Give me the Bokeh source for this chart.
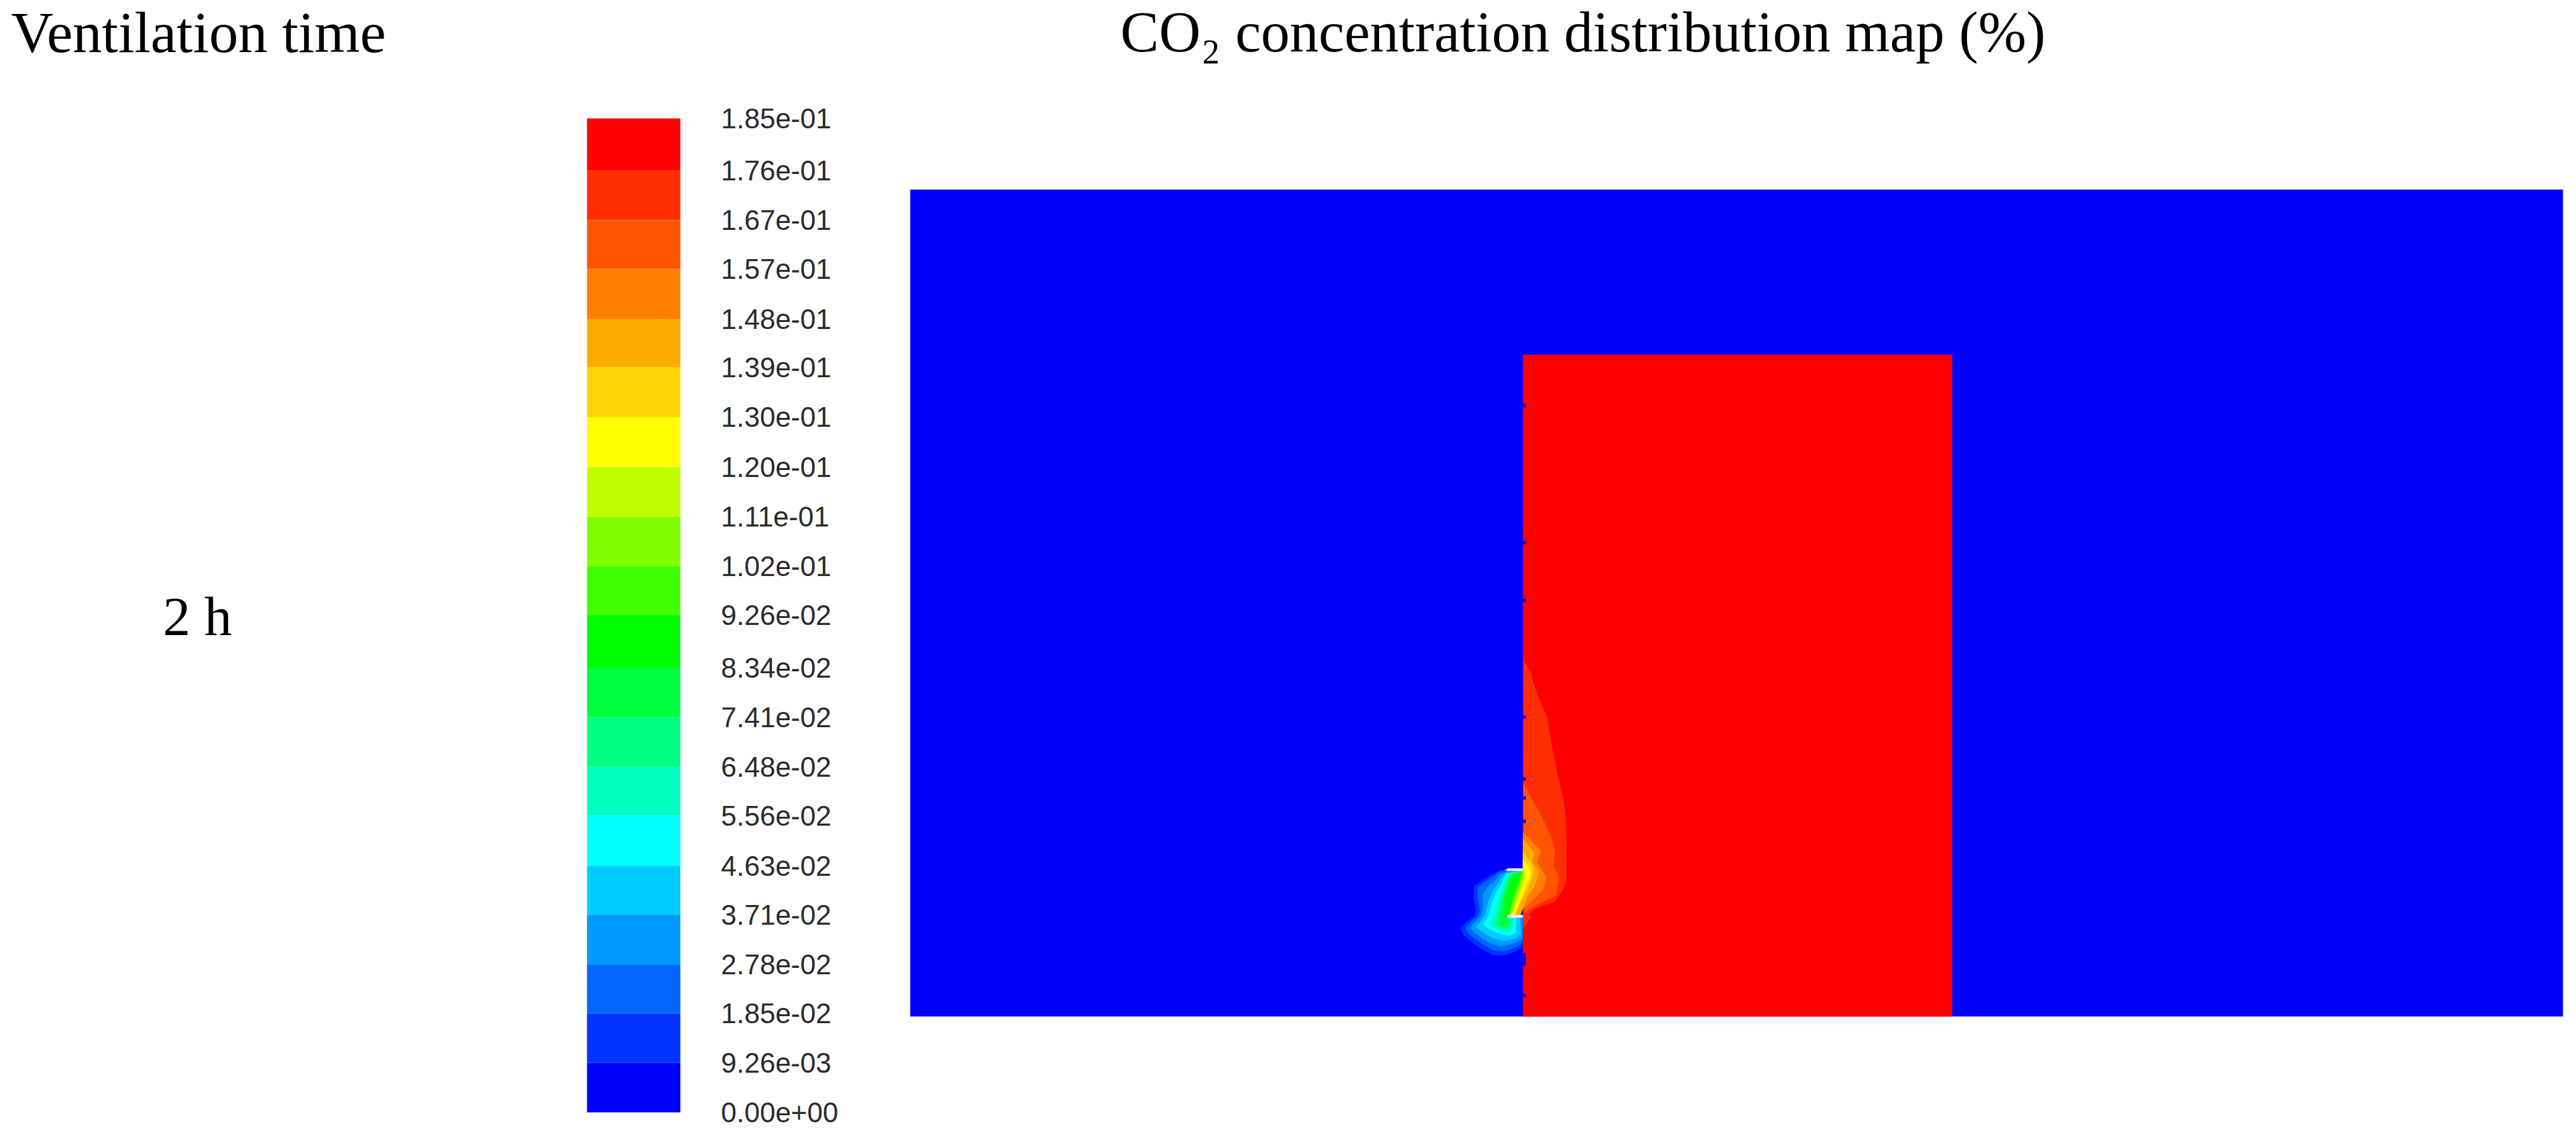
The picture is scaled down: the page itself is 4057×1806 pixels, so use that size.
"""CO2 concentration contour map, drawn with Bokeh."""

from bokeh.core.properties import value
from bokeh.embed import file_html
from bokeh.models import Range1d
from bokeh.plotting import figure
from bokeh.resources import INLINE

# colour bar: one colour per band, top band first
band_colors = [
    "#ff0000", "#ff2e00", "#ff5500", "#ff7f00", "#ffaa00", "#ffd400", "#ffff00",
    "#bfff00", "#80ff00", "#40ff00", "#00ff00", "#00ff40", "#00ff80", "#00ffbf",
    "#00ffff", "#00ccff", "#0099ff", "#0066ff", "#0033ff", "#0000ff",
]
# band edges, top first
band_edges = [
    0.1850, 0.1753, 0.1661, 0.1570, 0.1477, 0.1387, 0.1294, 0.1201, 0.1109, 0.1017,
    0.0926, 0.0828, 0.0735, 0.0643, 0.0552, 0.0459, 0.0368, 0.0275, 0.0184, 0.0092, 0.0,
]
level_labels = [
    "1.85e-01", "1.76e-01", "1.67e-01", "1.57e-01", "1.48e-01", "1.39e-01", "1.30e-01",
    "1.20e-01", "1.11e-01", "1.02e-01", "9.26e-02", "8.34e-02", "7.41e-02", "6.48e-02",
    "5.56e-02", "4.63e-02", "3.71e-02", "2.78e-02", "1.85e-02", "9.26e-03", "0.00e+00",
]

# map geometry, in map units
domain_x = (-2601, 5208)
domain_y = (-3006, 900)
core_x = (294, 2322)
core_y = (-2226, 900)
plate_x = (219, 294)
plate_y = [(200, 213), (420, 433)]
notch_top = [-1994, -1346, -1073, -523, -230, -140, -30, 600, 793]
notch_bottom = [-1978, -1330, -1057, -507, -214, -124, -14, 660, 807]

# contours on the room side of the wall, outermost first
room_contours = [
    [(297, -785), (330, -725), (350, -655), (375, -590), (410, -510), (420, -440), (440, -330),
     (460, -230), (485, -130), (495, -50), (500, 60), (500, 250), (490, 290), (465, 330), (440, 360),
     (390, 375), (345, 395), (320, 420), (330, 430), (320, 450), (300, 480), (294, 480)],
    [(295, -200), (330, -140), (370, -70), (405, 0), (440, 90), (445, 130), (440, 190), (465, 240),
     (450, 330), (369, 366), (321, 399), (300, 411)],
    [(294, 30), (381, 120), (360, 171), (405, 240), (390, 300), (351, 339), (300, 390)],
]
# these also reach through the opening in the wall
opening_contours = [
    [(294, 60), (350, 130), (340, 170), (370, 215), (350, 285), (315, 335), (295, 390), (280, 425)],
    [(294, 120), (330, 170), (345, 205), (335, 250), (310, 310), (280, 370), (262, 415), (255, 425)],
    [(294, 160), (320, 190), (332, 225), (315, 270), (285, 340), (265, 395), (250, 425)],
    [(294, 190), (305, 225), (295, 280), (270, 345), (252, 395), (240, 425)],
    [(294, 207), (295, 240), (278, 295), (258, 350), (245, 395), (235, 425)],
    [(294, 215), (285, 255), (265, 310), (245, 365), (235, 405), (230, 425)],
]
opening_close = [(210, 425), (210, 207), (294, 207)]

# contours on the open side, from the outer blue in to the green core
plume_contours = [
    [(218, 212), (190, 208), (150, 228), (100, 258), (62, 285), (62, 340), (72, 400), (62, 430), (25, 455),
     (0, 482), (10, 512), (50, 548), (100, 582), (150, 610), (205, 612), (265, 592), (293, 570), (293, 432)],
    [(218, 212), (185, 215), (150, 240), (110, 268), (80, 290), (80, 340), (90, 400), (80, 425), (40, 460),
     (22, 482), (35, 508), (70, 535), (115, 565), (160, 590), (210, 592), (265, 572), (293, 550), (293, 432)],
    [(218, 215), (190, 225), (165, 255), (130, 285), (105, 320), (105, 390), (95, 425), (60, 462), (45, 482),
     (60, 500), (100, 530), (140, 555), (190, 570), (260, 552), (293, 530), (293, 432)],
    [(218, 220), (200, 235), (180, 265), (150, 310), (130, 360), (115, 420), (85, 462), (70, 478), (100, 500),
     (150, 530), (210, 545), (262, 530), (285, 510), (280, 432)],
    [(218, 225), (205, 245), (190, 280), (165, 320), (145, 370), (130, 430), (105, 465), (130, 485), (170, 505),
     (225, 520), (255, 510), (262, 500), (262, 432)],
    [(218, 232), (205, 265), (185, 320), (165, 380), (155, 430), (135, 462), (170, 490), (225, 505), (245, 490),
     (250, 432)],
    [(225, 230), (215, 270), (195, 325), (180, 385), (170, 440), (160, 462), (185, 482), (220, 490), (235, 470),
     (238, 432)],
    [(240, 228), (225, 270), (207, 325), (195, 385), (185, 440), (185, 465), (205, 480), (222, 470), (225, 432)],
    [(255, 225), (235, 270), (218, 325), (210, 385), (205, 432), (222, 432)],
]
plume_close = [(225, 432), (235, 380), (250, 330), (272, 270), (280, 225), (293, 212)]


def split_xy(points):
    return [pt[0] for pt in points], [pt[1] for pt in points]


# frame covers the whole page, so the primary ranges are page positions
p = figure(
    width=4041,
    height=1790,
    x_range=Range1d(0, 4041),
    y_range=Range1d(1790, 0),
    x_axis_location=None,
    y_axis_location=None,
    toolbar_location=None,
    output_backend="svg",
    min_border=0,
    outline_line_color=None,
    background_fill_color="white",
    border_fill_color="white",
)
p.grid.visible = False
p.extra_y_ranges["co2"] = Range1d(-0.00461, 0.20700)
p.extra_x_ranges["map"] = Range1d(-6900, 5223)
p.extra_y_ranges["map"] = Range1d(1470, -3900)

# colour bar
p.quad(
    left=924, right=1071,
    top=band_edges[:-1], bottom=band_edges[1:],
    fill_color=band_colors, line_color=None,
    y_range_name="co2",
)
p.text(
    x=1135, y=band_edges, text=level_labels,
    text_font=value("Liberation Sans"), text_font_size="44px", text_color="#2b2b2b",
    text_baseline="middle", text_align="left",
    y_range_name="co2",
)

# domain, then the high concentration room
p.quad(
    left=domain_x[0], right=domain_x[1], top=domain_y[0], bottom=domain_y[1],
    fill_color="#0000ff", line_color=None, x_range_name="map", y_range_name="map",
)
p.quad(
    left=core_x[0], right=core_x[1], top=core_y[0], bottom=core_y[1],
    fill_color="#ff0000", line_color=None, x_range_name="map", y_range_name="map",
)

# contour layers
layers = []
for level, pts in enumerate(room_contours):
    layers.append((pts, band_colors[level + 1]))
for level, pts in enumerate(opening_contours):
    layers.append((pts + opening_close, band_colors[level + 4]))
for level, pts in enumerate(plume_contours):
    layers.append((pts + plume_close, band_colors[18 - level]))

for pts, color in layers:
    xs, ys = split_xy(pts)
    p.patch(xs, ys, fill_color=color, line_color=None, x_range_name="map", y_range_name="map")

# wall details
p.quad(
    left=294, right=308, top=notch_top, bottom=notch_bottom,
    fill_color="#0000ff", line_color=None, x_range_name="map", y_range_name="map",
)
p.quad(
    left=plate_x[0], right=plate_x[1],
    top=[py[0] for py in plate_y], bottom=[py[1] for py in plate_y],
    fill_color="#f3efff", line_color=None, x_range_name="map", y_range_name="map",
)

# headings
p.text(
    x=[17], y=[50], text=["Ventilation time"],
    text_font=value("Liberation Serif"), text_font_size="92px", text_color="black",
    text_baseline="middle", text_align="left",
)
p.text(
    x=[1764], y=[50], text=["CO\u2082 concentration distribution map (%)"],
    text_font=value("Liberation Serif"), text_font_size="91px", text_color="black",
    text_baseline="middle", text_align="left",
)
p.text(
    x=[256], y=[970], text=["2 h"],
    text_font=value("Liberation Serif"), text_font_size="87px", text_color="black",
    text_baseline="middle", text_align="left",
)

open("out.html", "w").write(file_html(p, INLINE))
